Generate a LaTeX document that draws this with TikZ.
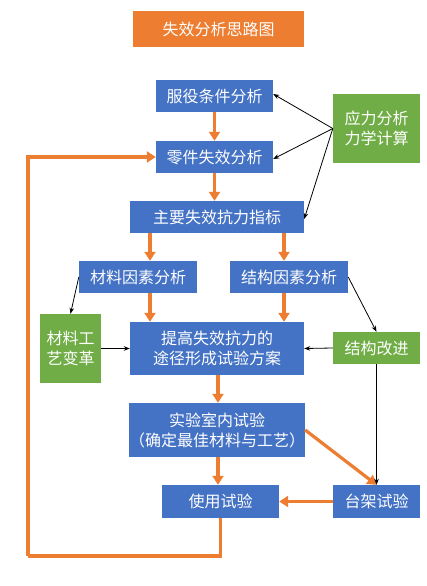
\documentclass[tikz,border=0pt]{standalone}
\usepackage{fontspec}
\newfontfamily\cjk{Noto Sans CJK SC}
\usetikzlibrary{arrows.meta,calc}
\definecolor{bblue}{HTML}{4472C4}
\definecolor{borange}{HTML}{ED7D31}
\definecolor{bgreen}{HTML}{70AD47}
\tikzset{
  box/.style={inner sep=0pt, text=white, align=center, font=\cjk\fontsize{16}{20}\selectfont},
  bluebox/.style={box, fill=bblue},
  greenbox/.style={box, fill=bgreen},
  orangebox/.style={box, fill=borange},
  oarrow/.style={draw=borange, line width=3.2pt, -{Triangle[length=9pt,width=11pt]}},
  oline/.style={draw=borange, line width=3.2pt},
  karrow/.style={draw=black, line width=0.8pt, -{Stealth[length=6pt,width=4.5pt]}},
}
\begin{document}
\begin{tikzpicture}[x=1pt,y=-1pt]
\useasboundingbox (0,0) rectangle (426,586);
\fill[white] (0,0) rectangle (426,586);
\node[orangebox, minimum width=171pt, minimum height=36pt] (title) at (218.5,29) {失效分析思路图};
\node[bluebox, minimum width=117pt, minimum height=32pt] (fuyi) at (214.5,96) {服役条件分析};
\node[bluebox, minimum width=117pt, minimum height=32pt] (lingjian) at (214.5,157) {零件失效分析};
\node[greenbox, minimum width=87pt, minimum height=69pt] (yingli) at (376.5,128.5) {应力分析\\力学计算};
\node[bluebox, minimum width=174pt, minimum height=32pt] (zhuyao) at (217,217) {主要失效抗力指标};
\node[bluebox, minimum width=118pt, minimum height=32pt] (cailiao) at (138,277) {材料因素分析};
\node[bluebox, minimum width=118pt, minimum height=32pt] (jiegou) at (289,277) {结构因素分析};
\node[greenbox, minimum width=61pt, minimum height=69pt] (gongyi) at (70.5,348.5) {材料工\\艺变革};
\node[bluebox, minimum width=174pt, minimum height=53pt] (tigao) at (217,348.5) {提高失效抗力的\\途径形成试验方案};
\node[greenbox, minimum width=87pt, minimum height=32pt] (gaijin) at (376.5,348) {结构改进};
\node[bluebox, minimum width=174pt, minimum height=54pt] (shiyan) at (217,430) {实验室内试验\\（确定最佳材料与工艺）};
\node[bluebox, minimum width=117pt, minimum height=33pt] (shiyong) at (220.5,501.5) {使用试验};
\node[bluebox, minimum width=87pt, minimum height=33pt] (taijia) at (376.5,501.5) {台架试验};

% orange flow
\draw[oarrow] (fuyi.south) -- (lingjian.north);
\draw[oarrow] (lingjian.south) -- (lingjian.south |- zhuyao.north);
\draw[oarrow] ([xshift=12pt]cailiao.north |- zhuyao.south) -- ([xshift=12pt]cailiao.north);
\draw[oarrow] ([xshift=-5pt]jiegou.north |- zhuyao.south) -- ([xshift=-5pt]jiegou.north);
\draw[oarrow] ([xshift=12pt]cailiao.south) -- ([xshift=12pt]cailiao.south |- tigao.north);
\draw[oarrow] ([xshift=-5pt]jiegou.south) -- ([xshift=-5pt]jiegou.south |- tigao.north);
\draw[oarrow] ([xshift=1pt]tigao.south) -- ([xshift=1pt]shiyan.north);
\draw[oarrow] ([xshift=1pt]shiyan.south) -- ([xshift=1pt]shiyan.south |- shiyong.north);
\draw[oarrow] (shiyan.east) -- (taijia.north);
\draw[oarrow] (taijia.west) -- (shiyong.east);
\coordinate (lp) at (28,556);
\draw[oline] (shiyong.south) |- (lp);
\draw[oarrow] (lp) |- (lingjian.west);

% black connectors
\draw[karrow] (yingli.west) -- ([yshift=2pt]fuyi.east);
\draw[karrow] (yingli.west) -- ([yshift=-2pt]lingjian.east);
\draw[karrow] (yingli.west) -- ([yshift=-2pt]zhuyao.east);
\draw[karrow] (cailiao.west) -- (gongyi.north);
\draw[karrow] (gongyi.east) -- (tigao.west);
\draw[karrow] (gaijin.west) -- (tigao.east);
\draw[karrow] (jiegou.east) -- (gaijin.north);
\draw[karrow] (gaijin.south) -- (taijia.north);
\end{tikzpicture}
\end{document}
